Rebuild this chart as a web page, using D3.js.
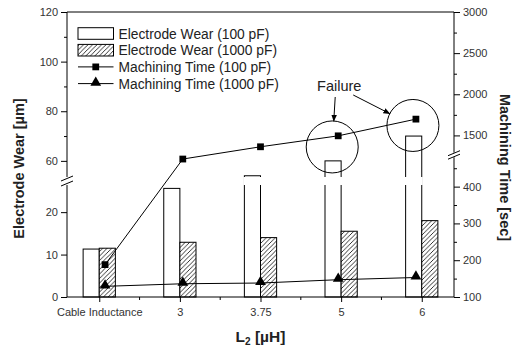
<!DOCTYPE html>
<html>
<head>
<meta charset="utf-8">
<script src="https://cdn.jsdelivr.net/npm/d3@7"></script>
<style>
  body { margin: 0; background: #fff; }
  svg { font-family: "Liberation Sans", Arial, sans-serif; }
</style>
</head>
<body>
<div id="vis"></div>
<script>
// chart data
const categories = ["Cable Inductance", "3", "3.75", "5", "6"];
const wear100 = [11.3, 25.6, 54, 60, 70];      // electrode wear, 100 pF [um]
const wear1000 = [11.5, 12.9, 14.0, 15.5, 18.0]; // electrode wear, 1000 pF [um]
const time100 = [188, 475, 1362, 1495, 1698];   // machining time, 100 pF [sec]
const time1000 = [129, 136, 138, 147, 153];     // machining time, 1000 pF [sec]

const leftTicksLow = [0, 10, 20];
const leftTicksHigh = [60, 80, 100, 120];
const leftMinorHigh = [70, 90, 110];
const rightTicksLow = [100, 200, 300, 400];
const rightMinorLow = [150, 250, 350, 450];
const rightTicksHigh = [1500, 2000, 2500, 3000];
const rightMinorHigh = [1750, 2250, 2750];

const legendLabels = [
  "Electrode Wear (100 pF)",
  "Electrode Wear (1000 pF)",
  "Machining Time (100 pF)",
  "Machining Time (1000 pF)"
];

// failure annotations: category, machining time at circle centre, pixel nudge
const failures = [
  { cat: "5", t: 1360, dx: -6 },
  { cat: "6", t: 1621, dx: -3 }
];

const width = 515, height = 349;
const plotL = 67, plotR = 454, plotT = 12, plotB = 297;

// broken axes: breaks at these values
const leftBreak = { low: 26.4, high: 53.5 };
const rightBreak = { low: 480, high: 1290 };

const svg = d3.select("#vis").append("svg")
  .attr("width", width).attr("height", height);

const x = d3.scalePoint().domain(categories).range([plotL, plotR]).padding(0.4);
const xLine = d3.scalePoint().domain(categories).range([plotL, plotR]).padding(0.49);

const yL = d3.scaleLinear()
  .domain([0, leftBreak.low, leftBreak.high, 120])
  .range([plotB, 185, 177, plotT]);
const yR = d3.scaleLinear()
  .domain([100, rightBreak.low, rightBreak.high, 3000])
  .range([plotB, 157.2, 152.7, plotT]);

const barW = x.step() * 0.2;

// hatch pattern
const defs = svg.append("defs");
const pat = defs.append("pattern")
  .attr("id", "hatch").attr("patternUnits", "userSpaceOnUse")
  .attr("width", 4.5).attr("height", 4.5);
pat.append("rect").attr("width", 4.5).attr("height", 4.5).attr("fill", "#fff");
pat.append("path")
  .attr("d", "M-1,1 l2,-2 M0,4.5 l4.5,-4.5 M3.5,5.5 l2,-2")
  .attr("stroke", "#000").attr("stroke-width", 0.8);

defs.append("marker")
  .attr("id", "arrow").attr("viewBox", "0 0 10 10")
  .attr("refX", 9).attr("refY", 5)
  .attr("markerWidth", 7).attr("markerHeight", 7)
  .attr("orient", "auto")
  .append("path").attr("d", "M0,1 L10,5 L0,9 z").attr("fill", "#000");

// bars
const bars = svg.append("g");
categories.forEach((c, i) => {
  bars.append("rect")
    .attr("x", x(c) - barW).attr("y", yL(wear100[i]))
    .attr("width", barW).attr("height", plotB - yL(wear100[i]))
    .attr("fill", "#fff").attr("stroke", "#000").attr("stroke-width", 1);
  bars.append("rect")
    .attr("x", x(c)).attr("y", yL(wear1000[i]))
    .attr("width", barW).attr("height", plotB - yL(wear1000[i]))
    .attr("fill", "url(#hatch)").attr("stroke", "#000").attr("stroke-width", 1);
  // gap where a tall bar crosses the break
  if (wear100[i] > leftBreak.low) {
    bars.append("rect")
      .attr("x", x(c) - barW - 1).attr("y", yL(leftBreak.high))
      .attr("width", barW + 2).attr("height", yL(leftBreak.low) - yL(leftBreak.high))
      .attr("fill", "#fff");
  }
});

// lines
const line = d3.line().x((d, i) => xLine(categories[i])).y(d => yR(d));
svg.append("path").datum(time100).attr("d", line)
  .attr("fill", "none").attr("stroke", "#000").attr("stroke-width", 1);
svg.append("path").datum(time1000).attr("d", line)
  .attr("fill", "none").attr("stroke", "#000").attr("stroke-width", 1);

const sq = d3.symbol().type(d3.symbolSquare).size(46);
const tri = d3.symbol().type(d3.symbolTriangle).size(50);
svg.append("g").selectAll("path").data(time100).join("path")
  .attr("d", sq)
  .attr("transform", (d, i) => `translate(${xLine(categories[i])},${yR(d)})`);
svg.append("g").selectAll("path").data(time1000).join("path")
  .attr("d", tri)
  .attr("transform", (d, i) => `translate(${xLine(categories[i])},${yR(d) - 1})`);

// frame and axes
const ax = svg.append("g").attr("stroke", "#000").attr("stroke-width", 1).attr("fill", "none");
ax.append("line").attr("x1", plotL).attr("x2", plotR).attr("y1", plotT).attr("y2", plotT);
ax.append("line").attr("x1", plotL).attr("x2", plotR).attr("y1", plotB).attr("y2", plotB);
ax.append("line").attr("x1", plotL).attr("x2", plotL).attr("y1", plotT).attr("y2", yL(leftBreak.high));
ax.append("line").attr("x1", plotL).attr("x2", plotL).attr("y1", yL(leftBreak.low)).attr("y2", plotB);
ax.append("line").attr("x1", plotR).attr("x2", plotR).attr("y1", plotT).attr("y2", yR(rightBreak.high));
ax.append("line").attr("x1", plotR).attr("x2", plotR).attr("y1", yR(rightBreak.low)).attr("y2", plotB);

// break marks
function breakMark(cx, y1, y2) {
  ax.append("line").attr("x1", cx - 6).attr("x2", cx + 6).attr("y1", y1 + 3).attr("y2", y1 - 2);
  ax.append("line").attr("x1", cx - 6).attr("x2", cx + 6).attr("y1", y2 + 2).attr("y2", y2 - 3);
}
breakMark(plotL, yL(leftBreak.high) + 1, yL(leftBreak.low) - 1);
breakMark(plotR, yR(rightBreak.high), yR(rightBreak.low));

function styleAxis(g) {
  g.select(".domain").remove();
  g.selectAll("text").attr("fill", "#333").attr("font-size", "11px")
    .attr("font-family", "'Liberation Sans', Arial, sans-serif");
}

svg.append("g").attr("transform", `translate(${plotL},0)`)
  .call(d3.axisLeft(yL).tickValues(leftTicksLow.concat(leftTicksHigh)).tickSize(6).tickPadding(3))
  .call(styleAxis);
svg.append("g").attr("transform", `translate(${plotL},0)`)
  .call(d3.axisLeft(yL).tickValues(leftMinorHigh).tickSize(3).tickFormat(""))
  .call(styleAxis);
svg.append("g").attr("transform", `translate(${plotR},0)`)
  .call(d3.axisRight(yR).tickValues(rightTicksLow.concat(rightTicksHigh)).tickSize(6).tickPadding(3)
    .tickFormat(d3.format("d")))
  .call(styleAxis);
svg.append("g").attr("transform", `translate(${plotR},0)`)
  .call(d3.axisRight(yR).tickValues(rightMinorLow.concat(rightMinorHigh)).tickSize(3).tickFormat(""))
  .call(styleAxis);

// x axis: outward ticks, minor between categories
svg.append("g").attr("transform", `translate(0,${plotB})`)
  .call(d3.axisBottom(x).tickSize(5).tickPadding(6))
  .call(styleAxis);
const mids = categories.slice(1).map((c, i) => (x(c) + x(categories[i])) / 2);
svg.append("g").selectAll("line").data(mids).join("line")
  .attr("x1", d => d).attr("x2", d => d)
  .attr("y1", plotB).attr("y2", plotB + 3)
  .attr("stroke", "#000");

// axis titles
svg.append("text")
  .attr("transform", `translate(24,${(plotT + plotB) / 2 + 14}) rotate(-90)`)
  .attr("text-anchor", "middle").attr("font-size", "14.5px").attr("font-weight", "bold")
  .attr("fill", "#222").text("Electrode Wear [µm]");
svg.append("text")
  .attr("transform", `translate(500,${(plotT + plotB) / 2 + 13}) rotate(90)`)
  .attr("text-anchor", "middle").attr("font-size", "14.5px").attr("font-weight", "bold")
  .attr("fill", "#222").text("Machining Time [sec]");
const xt = svg.append("text")
  .attr("x", (plotL + plotR) / 2).attr("y", 342)
  .attr("text-anchor", "middle").attr("font-size", "15.5px").attr("font-weight", "bold")
  .attr("fill", "#222");
xt.append("tspan").text("L");
xt.append("tspan").attr("font-size", "10px").attr("dy", 3).text("2");
xt.append("tspan").attr("dy", -3).text(" [µH]");

// failure circles and label
const ann = svg.append("g");
const centres = failures.map(f => ({ cx: xLine(f.cat) + f.dx, cy: yR(f.t), r: 26 }));
centres.forEach(c => {
  ann.append("circle").attr("cx", c.cx).attr("cy", c.cy).attr("r", c.r)
    .attr("fill", "none").attr("stroke", "#000").attr("stroke-width", 1);
});
const labelX = xLine("5") + 1, labelY = yR(2040);
ann.append("text").attr("x", labelX).attr("y", labelY)
  .attr("text-anchor", "middle").attr("font-size", "14.5px").attr("fill", "#222")
  .text("Failure");
const starts = [[labelX - 4, labelY + 6], [labelX + 14, labelY + 4]];
centres.forEach((c, i) => {
  const [sx, sy] = starts[i];
  const a = Math.atan2(sy - c.cy, sx - c.cx);
  ann.append("line")
    .attr("x1", sx).attr("y1", sy)
    .attr("x2", c.cx + c.r * Math.cos(a)).attr("y2", c.cy + c.r * Math.sin(a))
    .attr("stroke", "#000").attr("stroke-width", 1)
    .attr("marker-end", "url(#arrow)");
});

// legend
const lg = svg.append("g").attr("transform", "translate(78,33.5)");
legendLabels.forEach((t, i) => {
  const g = lg.append("g").attr("transform", `translate(0,${i * 16.7})`);
  if (i < 2) {
    g.append("rect").attr("x", 0).attr("y", -5.8).attr("width", 35.5).attr("height", 11.6)
      .attr("fill", i === 0 ? "#fff" : "url(#hatch)").attr("stroke", "#000");
  } else {
    g.append("line").attr("x1", 0).attr("x2", 35.5).attr("y1", 0).attr("y2", 0).attr("stroke", "#000");
    g.append("path").attr("d", i === 2 ? sq : tri)
      .attr("transform", `translate(17.75,${i === 2 ? 0 : -1})`);
  }
  g.append("text").attr("x", 40.5).attr("y", 5)
    .attr("font-size", "13.8px").attr("fill", "#222").text(t);
});
</script>
</body>
</html>
